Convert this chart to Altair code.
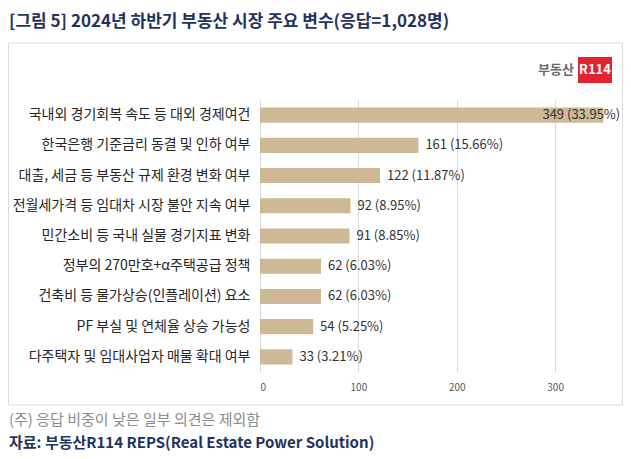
import altair as alt
import pandas as pd

categories = [
    "국내외 경기회복 속도 등 대외 경제여건",
    "한국은행 기준금리 동결 및 인하 여부",
    "대출, 세금 등 부동산 규제 환경 변화 여부",
    "전월세가격 등 임대차 시장 불안 지속 여부",
    "민간소비 등 국내 실물 경기지표 변화",
    "정부의 270만호+α주택공급 정책",
    "건축비 등 물가상승(인플레이션) 요소",
    "PF 부실 및 연체율 상승 가능성",
    "다주택자 및 임대사업자 매물 확대 여부",
]
values = [349, 161, 122, 92, 91, 62, 62, 54, 33]
shares = ["33.95%", "15.66%", "11.87%", "8.95%", "8.85%", "6.03%", "6.03%", "5.25%", "3.21%"]
x_ticks = [0, 100, 200, 300]

df = pd.DataFrame({
    "category": categories,
    "value": values,
    "label": [f"{v} ({s})" for v, s in zip(values, shares)],
})

FONT = "Noto Sans CJK KR"
NAVY = "#1f3361"

xscale = alt.Scale(domain=[0, 368], nice=False)
yenc = alt.Y("category:N", sort=categories, title=None,
             scale=alt.Scale(paddingInner=0.5, paddingOuter=0.25),
             axis=alt.Axis(domain=False, ticks=False, labelPadding=10, labelLimit=300,
                           labelFontSize=14, labelColor="#262626", labelFont=FONT))

base = alt.Chart(df)

bars = base.mark_bar(color="#cdb995").encode(
    x=alt.X("value:Q", scale=xscale, title=None,
            axis=alt.Axis(values=x_ticks, domain=False, ticks=False, grid=True,
                          gridColor="#d9d9d9", labelColor="#595959", labelFontSize=10,
                          labelPadding=10, labelFont=FONT)),
    y=yenc,
)

labels = base.transform_calculate(lx="min(datum.value, 280)").mark_text(
    align="left", baseline="middle", dx=7, fontSize=13, color="#333333", font=FONT
).encode(
    x=alt.X("lx:Q", scale=xscale),
    y=alt.Y("category:N", sort=categories),
    text="label:N",
)

one = pd.DataFrame({"k": [0]})
dec = alt.Chart(one)

border = dec.mark_rect(fill=None, stroke="#d9d9d9", strokeWidth=1).encode(
    x=alt.value(-251.5), x2=alt.value(362.5), y=alt.value(-57), y2=alt.value(305)
)
title = dec.mark_text(text="[그림 5] 2024년 하반기 부동산 시장 주요 변수(응답=1,028명)",
                      align="left", baseline="middle", fontSize=17, fontWeight="bold",
                      color=NAVY, font=FONT).encode(x=alt.value(-251), y=alt.value(-78))
logo_txt = dec.mark_text(text="부동산", align="right", baseline="middle", fontSize=13,
                         fontWeight="bold", color="#6b6b6b", font=FONT).encode(
    x=alt.value(314), y=alt.value(-30))
logo_box = dec.mark_rect(color="#e3222f").encode(
    x=alt.value(318), x2=alt.value(352), y=alt.value(-43), y2=alt.value(-17))
logo_r = dec.mark_text(text="R114", align="center", baseline="middle", fontSize=13,
                       fontWeight="bold", color="white", font=FONT).encode(
    x=alt.value(335), y=alt.value(-30))
note = dec.mark_text(text="(주) 응답 비중이 낮은 일부 의견은 제외함", align="left",
                     baseline="middle", fontSize=15, color="#8c8c8c", font=FONT).encode(
    x=alt.value(-251), y=alt.value(320))
src = dec.mark_text(text="자료: 부동산R114 REPS(Real Estate Power Solution)", align="left",
                    baseline="middle", fontSize=15, fontWeight="bold", color=NAVY,
                    font=FONT).encode(x=alt.value(-251), y=alt.value(343))

chart = alt.layer(border, bars, labels, title, logo_txt, logo_box, logo_r, note, src).properties(
    width=362, height=272,
    padding={"left": 252, "top": 92, "right": 1, "bottom": 79},
    autosize="none",
    background="white",
).configure_view(stroke=None)

chart.save("out.html", embed_options={"renderer": "svg", "actions": False})
